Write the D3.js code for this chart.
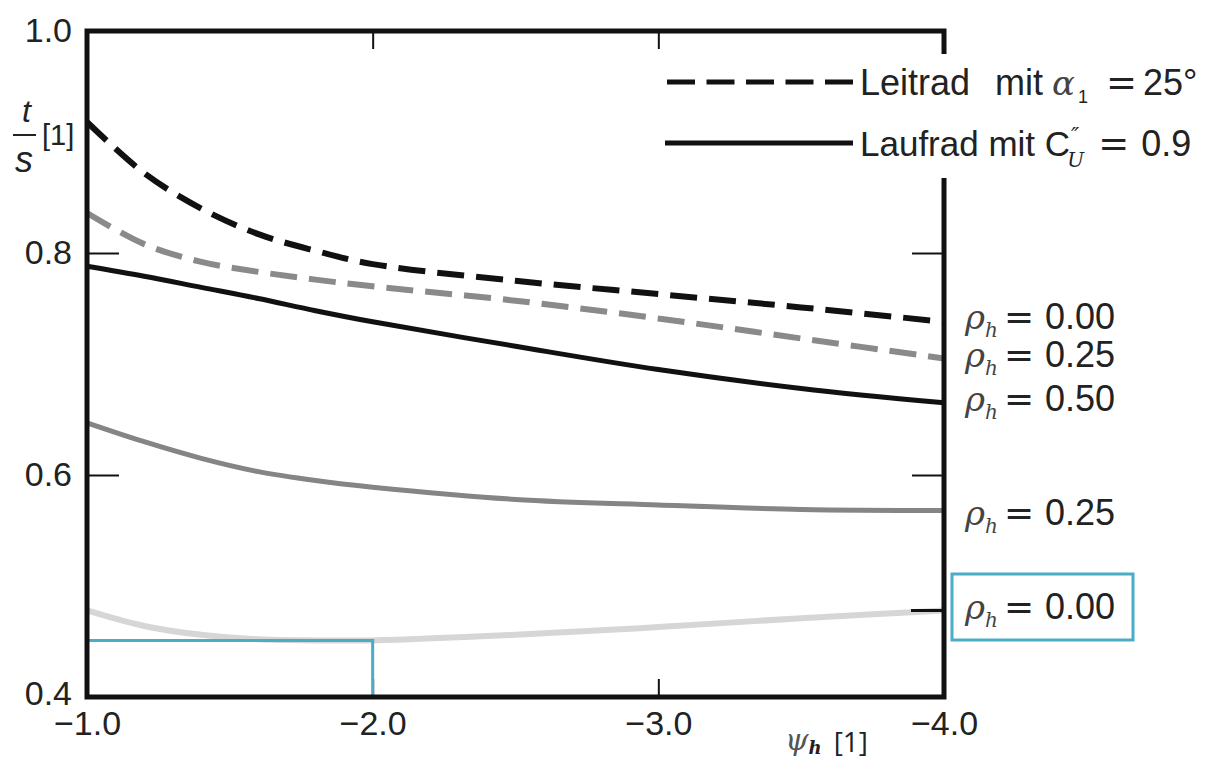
<!DOCTYPE html>
<html><head><meta charset="utf-8">
<script src="https://cdn.jsdelivr.net/npm/d3@7"></script>
<style>
html,body{margin:0;padding:0;background:#fff;}
svg text{font-family:"Liberation Sans",Arial,sans-serif;fill:#222;}
.math{font-family:"DejaVu Serif","Liberation Serif",serif;font-style:italic;}
.eq{font-family:"DejaVu Sans",sans-serif;}
.it{font-family:"Liberation Sans",Arial,sans-serif;font-style:italic;}
</style></head>
<body>
<svg id="chart" width="1219" height="760"></svg>
<script>
// ---- data ----
const psi = [-1.0, -1.2, -1.4, -1.6, -1.8, -2.0, -2.5, -3.0, -3.5, -4.0];
const leitRho000 = [0.918, 0.872, 0.840, 0.817, 0.802, 0.790, 0.775, 0.763, 0.751, 0.738];
const leitRho025 = [0.836, 0.808, 0.792, 0.783, 0.776, 0.770, 0.757, 0.741, 0.723, 0.705];
const laufRho050 = [0.788, 0.779, 0.769, 0.759, 0.748, 0.738, 0.716, 0.695, 0.678, 0.665];
const laufRho025 = [0.647, 0.630, 0.615, 0.603, 0.595, 0.589, 0.578, 0.573, 0.569, 0.568];
const laufRho000 = [0.478, 0.464, 0.456, 0.452, 0.451, 0.451, 0.456, 0.463, 0.471, 0.478];
const xTicks = [-1.0, -2.0, -3.0, -4.0];
const yTicks = [0.4, 0.6, 0.8, 1.0];
const curveLabels = ["0.00", "0.25", "0.50", "0.25", "0.00"];
const curveLabelValues = [0.743, 0.709, 0.669, 0.567, 0.482];
const annotPsi = -2.0;
const annotValue = 0.451;

const svg = d3.select("#chart");
const x = d3.scaleLinear().domain([-1, -4]).range([87, 944]);
const y = d3.scaleLinear().domain([0.4, 1.0]).range([697, 31]);

// inner ticks
const tickCol = "#111";
svg.append("g").attr("transform", `translate(0,${y(0.4)})`)
  .call(d3.axisBottom(x).tickValues(xTicks).tickSize(-18).tickPadding(14).tickFormat(d3.format(".1f")))
  .call(g => { g.select(".domain").remove(); g.selectAll("line").attr("stroke", tickCol).attr("stroke-width", 2); g.selectAll("text").attr("font-size", 34).attr("font-family", "Liberation Sans, Arial").attr("fill", "#222"); });
svg.append("g").attr("transform", `translate(0,${y(1.0)})`)
  .call(d3.axisTop(x).tickValues(xTicks).tickSize(-18).tickFormat(""))
  .call(g => { g.select(".domain").remove(); g.selectAll("line").attr("stroke", tickCol).attr("stroke-width", 2); });
svg.append("g").attr("transform", `translate(${x(-1)},0)`)
  .call(d3.axisLeft(y).tickValues(yTicks).tickSize(-32).tickPadding(15).tickFormat(d3.format(".1f")))
  .call(g => { g.select(".domain").remove(); g.selectAll("line").attr("stroke", tickCol).attr("stroke-width", 2);
    g.selectAll("text").attr("font-size", 34).attr("font-family", "Liberation Sans, Arial").attr("fill", "#222")
     .attr("dy", d => d === 0.4 ? "0.22em" : "0.32em"); });
svg.append("g").attr("transform", `translate(${x(-4)},0)`)
  .call(d3.axisRight(y).tickValues([0.6, 0.8]).tickSize(-32).tickFormat(""))
  .call(g => { g.select(".domain").remove(); g.selectAll("line").attr("stroke", tickCol).attr("stroke-width", 2); });

// curves
const line = d3.line().x((d, i) => x(psi[i])).y(d => y(d)).curve(d3.curveCatmullRom.alpha(0.5));
const series = [
  {v: leitRho000, c: "#111", w: 6, dash: "27,12"},
  {v: leitRho025, c: "#8a8a8a", w: 6, dash: "27,12"},
  {v: laufRho050, c: "#111", w: 5, dash: null},
  {v: laufRho025, c: "#858585", w: 5, dash: null},
  {v: laufRho000, c: "#d6d6d6", w: 6, dash: null}
];
series.forEach(s => {
  svg.append("path").attr("d", line(s.v)).attr("fill", "none")
    .attr("stroke", s.c).attr("stroke-width", s.w)
    .attr("stroke-dasharray", s.dash);
});
// black end marker on lowest curve
svg.append("line").attr("x1", x(-4) - 33).attr("x2", x(-4))
  .attr("y1", y(laufRho000[laufRho000.length - 1])).attr("y2", y(laufRho000[laufRho000.length - 1]))
  .attr("stroke", "#111").attr("stroke-width", 3);

// cyan annotation
const cyan = "#4bacc6";
svg.append("path")
  .attr("d", `M${x(-1)},${y(annotValue)}H${x(annotPsi)}V${y(0.4)}`)
  .attr("fill", "none").attr("stroke", cyan).attr("stroke-width", 3);

// frame
svg.append("rect").attr("x", x(-1)).attr("y", y(1.0))
  .attr("width", x(-4) - x(-1)).attr("height", y(0.4) - y(1.0))
  .attr("fill", "none").attr("stroke", "#111").attr("stroke-width", 5);

// legend (white background hides frame)
svg.append("rect").attr("x", 858).attr("y", 54).attr("width", 354).attr("height", 124).attr("fill", "#fff");
svg.append("line").attr("x1", 667).attr("x2", 853).attr("y1", 82).attr("y2", 82)
  .attr("stroke", "#111").attr("stroke-width", 5).attr("stroke-dasharray", "28,11.5");
svg.append("line").attr("x1", 665).attr("x2", 853).attr("y1", 143).attr("y2", 143)
  .attr("stroke", "#111").attr("stroke-width", 5);
const l1 = svg.append("text").attr("x", 860).attr("y", 95).attr("font-size", 36);
l1.append("tspan").text("Leitrad");
l1.append("tspan").attr("dx", 25).text("mit");
l1.append("tspan").attr("class", "math").attr("dx", 9).attr("font-size", 34).attr("fill", "#444").text("α");
l1.append("tspan").attr("font-size", 18).attr("dx", 3).attr("dy", 8).text("1");
l1.append("tspan").attr("class", "eq").attr("dy", -8).attr("dx", 18).attr("font-size", 37).text("=");
l1.append("tspan").attr("dx", 6).text("25°");
const l2 = svg.append("text").attr("x", 860).attr("y", 156).attr("font-size", 35);
l2.append("tspan").text("Laufrad mit C");
l2.append("tspan").attr("class", "math").attr("font-size", 22).attr("dx", 1).attr("dy", -13).text("″");
l2.append("tspan").attr("class", "math").attr("font-size", 20).attr("dx", -12).attr("dy", 24).text("U");
l2.append("tspan").attr("class", "eq").attr("dy", -11).attr("dx", 14).attr("font-size", 37).text("=");
l2.append("tspan").attr("dx", 12).attr("font-size", 36).text("0.9");

// curve labels
curveLabels.forEach((lab, i) => {
  const t = svg.append("text").attr("x", 965).attr("y", y(curveLabelValues[i])).attr("dy", "0.36em").attr("font-size", 36);
  t.append("tspan").attr("class", "math").attr("font-size", 34).attr("fill", "#444").text("ρ");
  t.append("tspan").attr("class", "math").attr("font-size", 20).attr("dy", 8).attr("fill", "#444").text("h");
  t.append("tspan").attr("class", "eq").attr("dy", -8).attr("dx", 6).attr("font-size", 36).text("=");
  t.append("tspan").attr("dx", 11).text(lab);
});
// highlight box
svg.append("rect").attr("x", 952).attr("y", 574).attr("width", 181).attr("height", 66)
  .attr("fill", "none").attr("stroke", cyan).attr("stroke-width", 3);

// axis titles
svg.append("text").attr("class", "it").attr("x", 22).attr("y", 122).attr("font-size", 32).text("t");
svg.append("line").attr("x1", 13).attr("x2", 36).attr("y1", 135).attr("y2", 135).attr("stroke", "#222").attr("stroke-width", 2);
svg.append("text").attr("class", "it").attr("x", 15).attr("y", 172).attr("font-size", 36).text("s");
svg.append("text").attr("x", 42).attr("y", 145).attr("font-size", 29).attr("font-family", "Open Sans, sans-serif").text("[1]");
const xt = svg.append("text").attr("x", 785).attr("y", 750).attr("font-size", 30);
xt.append("tspan").attr("class", "math").attr("fill", "#555").text("ψ");
xt.append("tspan").attr("class", "math").attr("font-size", 18).attr("font-weight", "bold").attr("dy", 4).text("h");
xt.append("tspan").attr("dy", -2).attr("dx", 12).attr("font-size", 28).attr("font-family", "Open Sans, sans-serif").text("[1]");
</script>
</body></html>
